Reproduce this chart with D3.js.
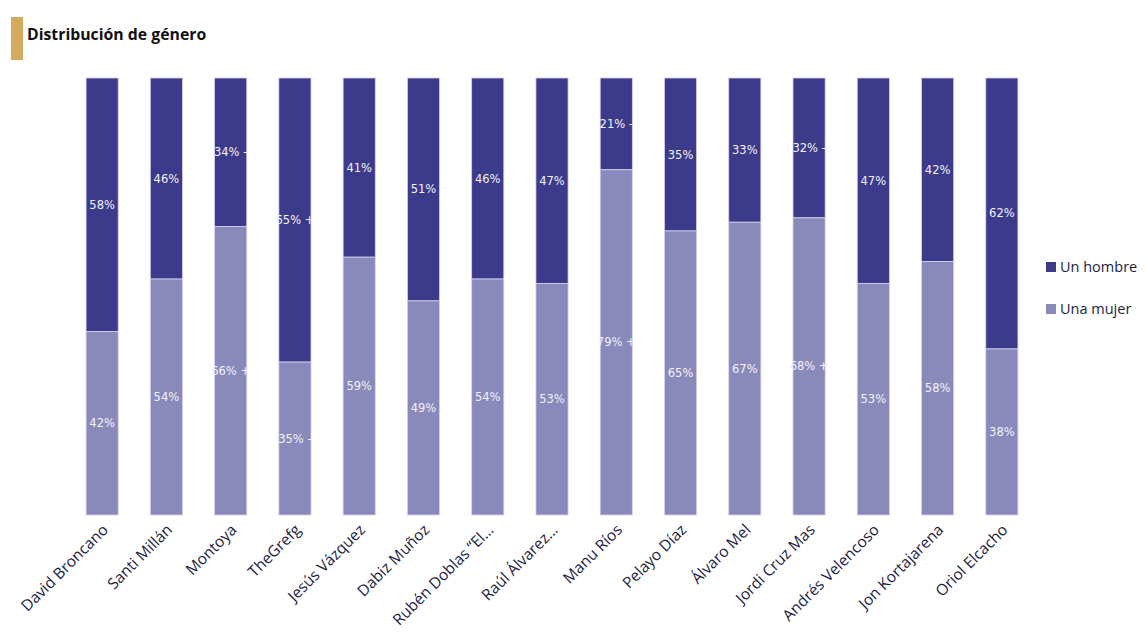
<!DOCTYPE html>
<html>
<head>
<meta charset="utf-8">
<script src="https://cdn.jsdelivr.net/npm/d3@7"></script>
<style>
  body { margin: 0; background: #fff; }
</style>
</head>
<body>
<script>
const names = ["David Broncano", "Santi Millán", "Montoya", "TheGrefg", "Jesús Vázquez", "Dabiz Muñoz",
  "Rubén Doblas “El…", "Raúl Álvarez…", "Manu Ríos", "Pelayo Díaz", "Álvaro Mel", "Jordi Cruz Mas",
  "Andrés Velencoso", "Jon Kortajarena", "Oriol Elcacho"]
const hombre = [58, 46, 34, 65, 41, 51, 46, 47, 21, 35, 33, 32, 47, 42, 62]
const mujer = [42, 54, 66, 35, 59, 49, 54, 53, 79, 65, 67, 68, 53, 58, 38]
// marcas +/- que aparecen junto a algunas etiquetas
const hombreMark = ["", "", "-", "+", "", "", "", "", "-", "", "", "-", "", "", ""]
const mujerMark = ["", "", "+", "-", "", "", "", "", "+", "", "", "+", "", "", ""]
const seriesNames = ["Un hombre", "Una mujer"]
const colors = ["#3c3a8b", "#8a89bb"]

const width = 1147
const height = 637
const plotTop = 78, plotBottom = 515
const textFont = "'Open Sans', Lato, sans-serif"

const svg = d3.select("body").append("svg").attr("width", width).attr("height", height)

// titulo
svg.append("rect").attr("x", 11).attr("y", 17).attr("width", 12).attr("height", 43).attr("fill", "#d4ab5c")
svg.append("text").text("Distribución de género")
  .attr("x", 27).attr("y", 40)
  .style("font-family", textFont).style("font-weight", "bold")
  .style("font-size", "15.8px").style("fill", "#111")

const data = names.map((n, i) => ({ name: n, hombre: hombre[i], mujer: mujer[i], hm: hombreMark[i], mm: mujerMark[i] }))

const x = d3.scaleBand().domain(names).range([70, 1034]).paddingInner(0.5).paddingOuter(0.25)
const y = d3.scaleLinear().domain([0, 100]).range([plotTop, plotBottom])

const g = svg.append("g")

const bars = g.selectAll("g.bar").data(data).join("g").attr("class", "bar")

bars.append("rect")
  .attr("x", d => x(d.name)).attr("width", x.bandwidth())
  .attr("y", y(0)).attr("height", d => y(d.hombre) - y(0))
  .attr("fill", colors[0]).attr("stroke", "#d4d3ec").attr("stroke-width", 0.8)

bars.append("rect")
  .attr("x", d => x(d.name)).attr("width", x.bandwidth())
  .attr("y", d => y(d.hombre)).attr("height", d => y(100) - y(d.hombre))
  .attr("fill", colors[1]).attr("stroke", "#d4d3ec").attr("stroke-width", 0.8)

const labelStyle = sel => sel
  .attr("text-anchor", "middle").attr("dy", "0.35em")
  .style("font-family", "'DejaVu Sans', Verdana, sans-serif").style("font-size", "11.5px")
  .style("fill", "#f2f2fa")

bars.append("text")
  .attr("x", d => x(d.name) + x.bandwidth() / 2)
  .attr("y", d => (y(0) + y(d.hombre)) / 2)
  .text(d => d.hombre + "%" + (d.hm ? " " + d.hm : ""))
  .call(labelStyle)

bars.append("text")
  .attr("x", d => x(d.name) + x.bandwidth() / 2)
  .attr("y", d => (y(d.hombre) + y(100)) / 2)
  .text(d => d.mujer + "%" + (d.mm ? " " + d.mm : ""))
  .call(labelStyle)

// eje x
const xAxis = svg.append("g").attr("transform", `translate(0,${plotBottom})`)
  .call(d3.axisBottom(x).tickSize(0).tickPadding(0))
xAxis.select(".domain").remove()
xAxis.selectAll("text")
  .attr("text-anchor", "end")
  .attr("transform", "translate(3,12) rotate(-45)")
  .attr("dy", "0.35em")
  .style("font-family", textFont).style("font-size", "15.5px")
  .style("fill", "#1c1c44")

// leyenda
const legend = svg.append("g").attr("transform", "translate(1046,267)")
seriesNames.forEach((s, i) => {
  const row = legend.append("g").attr("transform", `translate(0,${i * 42})`)
  row.append("rect").attr("x", 0).attr("y", -5).attr("width", 10).attr("height", 10).attr("fill", colors[i])
  row.append("text").text(s).attr("x", 14).attr("dy", "0.35em")
    .style("font-family", textFont).style("font-size", "14.5px")
    .style("fill", "#1c1c44")
})
</script>
</body>
</html>
